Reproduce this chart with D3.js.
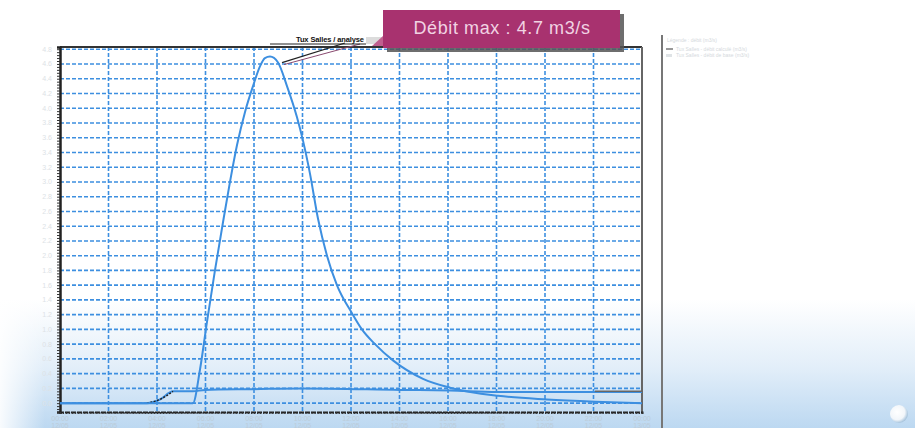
<!DOCTYPE html>
<html>
<head>
<meta charset="utf-8">
<script src="https://cdn.jsdelivr.net/npm/d3@7"></script>
<style>
  html, body { margin: 0; padding: 0; background: #fff; }
  svg { display: block; font-family: "Liberation Sans", Arial, sans-serif; }
</style>
</head>
<body>
<svg id="chart" width="915" height="428"></svg>
<script>
// Hydrograph: time in hours, discharge in m3/s
const hours = [0, 5.48, 5.77, 6.06, 6.39, 6.72, 7.01, 7.30, 7.63, 7.96, 8.25, 8.45, 8.66, 8.99, 9.36, 9.77, 10.02, 10.31, 10.64, 11.01, 11.42, 12.04, 12.45, 12.99, 13.73, 14.97, 16.08, 18.06, 20.08, 22.06, 24];
const debit = [0, 0, 0.45, 1.1, 1.8, 2.45, 3.0, 3.5, 3.95, 4.3, 4.57, 4.68, 4.7, 4.62, 4.3, 3.88, 3.56, 3.11, 2.5, 2.0, 1.6, 1.22, 1.0, 0.8, 0.58, 0.33, 0.21, 0.10, 0.05, 0.02, 0.0];

// Base flow series
const baseHours = [0, 3.58, 4.12, 4.66, 5.48, 5.98, 7.96, 9.98, 14.02, 16.08, 18.02, 20.07, 22.06, 24];
const baseDebit = [0, 0, 0.05, 0.16, 0.16, 0.18, 0.19, 0.20, 0.18, 0.17, 0.15, 0.15, 0.15, 0.15];

// Measured segment (black dotted) and reference segment (grey)
const mesHours = [3.58, 4.12, 4.66];
const mesDebit = [0, 0.05, 0.16];
const refHours = [22.06, 24];
const refDebit = [0.16, 0.16];

const yTicks = d3.range(0, 4.81, 0.2);
const xTicks = d3.range(0, 24.1, 2);
const xTickLabels = ["00:00", "02:00", "04:00", "06:00", "08:00", "10:00", "12:00", "14:00", "16:00", "18:00", "20:00", "22:00", "00:00"];
const xTickDates = ["12/05", "12/05", "12/05", "12/05", "12/05", "12/05", "12/05", "12/05", "12/05", "12/05", "12/05", "12/05", "13/05"];

const peakValue = 4.7;
const peakHour = 8.66;
const calloutText = "Débit max : " + peakValue + " m3/s";

const svg = d3.select("#chart");
const W = 915, H = 428;
const plot = { left: 60, right: 642, top: 47, bottom: 412 };

const x = d3.scaleLinear().domain([0, 24]).range([plot.left, plot.right]);
const y = d3.scaleLinear().domain([-0.12, 4.83]).range([plot.bottom, plot.top]);

// Background haze
const defs = svg.append("defs");
const bg = defs.append("linearGradient").attr("id", "bg").attr("x1", 0).attr("y1", 0).attr("x2", 0).attr("y2", 1);
bg.append("stop").attr("offset", "0%").attr("stop-color", "#ffffff");
bg.append("stop").attr("offset", "70%").attr("stop-color", "#ffffff");
bg.append("stop").attr("offset", "86%").attr("stop-color", "#e2eef9");
bg.append("stop").attr("offset", "100%").attr("stop-color", "#bcd8f1");
svg.append("rect").attr("width", W).attr("height", H).attr("fill", "url(#bg)");

const sideFade = defs.append("linearGradient").attr("id", "side").attr("x1", 0).attr("y1", 0).attr("x2", 1).attr("y2", 0);
sideFade.append("stop").attr("offset", "0%").attr("stop-color", "#ffffff").attr("stop-opacity", 0.9);
sideFade.append("stop").attr("offset", "100%").attr("stop-color", "#ffffff").attr("stop-opacity", 0);
svg.append("rect").attr("x", 0).attr("y", 300).attr("width", 45).attr("height", 128).attr("fill", "url(#side)");

// Small glossy ball, lower right
const ball = defs.append("radialGradient").attr("id", "ball").attr("cx", "40%").attr("cy", "40%").attr("r", "60%");
ball.append("stop").attr("offset", "0%").attr("stop-color", "#ffffff");
ball.append("stop").attr("offset", "70%").attr("stop-color", "#f2f6fa");
ball.append("stop").attr("offset", "100%").attr("stop-color", "#aac6de");
svg.append("circle").attr("cx", 899).attr("cy", 414).attr("r", 9).attr("fill", "url(#ball)");

// Grid
const grid = svg.append("g").attr("stroke", "#3d8fe0").attr("stroke-width", 1.6).attr("stroke-dasharray", "4,2");
grid.selectAll("line.h").data(yTicks).join("line")
  .attr("x1", plot.left).attr("x2", plot.right)
  .attr("y1", d => y(d)).attr("y2", d => y(d));
grid.selectAll("line.v").data(xTicks.slice(1, -1)).join("line")
  .attr("y1", plot.top).attr("y2", plot.bottom)
  .attr("x1", d => x(d)).attr("x2", d => x(d));

// Frame
svg.append("line").attr("x1", plot.left).attr("x2", plot.right).attr("y1", plot.top).attr("y2", plot.top)
  .attr("stroke", "#333").attr("stroke-width", 2);
svg.append("line").attr("x1", plot.right).attr("x2", plot.right).attr("y1", plot.top).attr("y2", plot.bottom)
  .attr("stroke", "#666").attr("stroke-width", 2);

// Axes with dense minor ticks
const yAxis = d3.axisLeft(y).tickValues(d3.range(-0.12, 4.83, 0.04)).tickSize(3).tickFormat("");
const gy = svg.append("g").attr("transform", `translate(${plot.left},0)`).call(yAxis);
gy.select(".domain").attr("stroke", "#222").attr("stroke-width", 2.5);
gy.selectAll(".tick line").attr("stroke", "#333");

const xAxis = d3.axisBottom(x).tickValues(d3.range(0, 24.01, 0.125)).tickSize(2).tickFormat("");
const gx = svg.append("g").attr("transform", `translate(0,${plot.bottom})`).call(xAxis);
gx.select(".domain").attr("stroke", "#222").attr("stroke-width", 2).attr("stroke-dasharray", "5,1");
gx.selectAll(".tick line").attr("stroke", "#333");

// Faint tick labels
svg.append("g").selectAll("text").data(yTicks).join("text")
  .attr("x", plot.left - 8).attr("y", d => y(d) + 2.5)
  .attr("text-anchor", "end").attr("font-size", 7).attr("fill", "#dde2e6")
  .text(d => d.toFixed(1));
const xl = svg.append("g").attr("font-size", 7).attr("fill", "#bcccd9").attr("text-anchor", "middle");
xl.selectAll("text.t").data(xTicks).join("text")
  .attr("x", d => x(d)).attr("y", plot.bottom + 9).text((d, i) => xTickLabels[i]);
xl.selectAll("text.d").data(xTicks).join("text")
  .attr("x", d => x(d)).attr("y", plot.bottom + 16).text((d, i) => xTickDates[i]);

// Series
const line = d3.line().x(d => x(d[0])).y(d => y(d[1])).curve(d3.curveMonotoneX);
svg.append("path").datum(d3.zip(baseHours, baseDebit)).attr("d", line)
  .attr("fill", "none").attr("stroke", "#3d8fe0").attr("stroke-width", 2);
svg.append("path").datum(d3.zip(refHours, refDebit)).attr("d", line)
  .attr("fill", "none").attr("stroke", "#666").attr("stroke-width", 1.5);
svg.append("path").datum(d3.zip(mesHours, mesDebit)).attr("d", line)
  .attr("fill", "none").attr("stroke", "#222").attr("stroke-width", 1.5).attr("stroke-dasharray", "2,1.5");
svg.append("path").datum(d3.zip(hours, debit)).attr("d", line)
  .attr("fill", "none").attr("stroke", "#3d8fe0").attr("stroke-width", 2);

// Peak annotation
const px = x(peakHour) + 12, py = y(peakValue) + 6;
svg.append("line").attr("x1", px).attr("y1", py).attr("x2", 345).attr("y2", 43)
  .attr("stroke", "#222").attr("stroke-width", 1.2);
svg.append("line").attr("x1", px + 2).attr("y1", py + 2).attr("x2", 360).attr("y2", 44)
  .attr("stroke", "#8a4a70").attr("stroke-width", 1);
svg.append("line").attr("x1", 270).attr("x2", 366).attr("y1", 44).attr("y2", 44)
  .attr("stroke", "#222").attr("stroke-width", 1);
svg.append("text").attr("x", 296).attr("y", 42).attr("font-size", 7.5).attr("font-weight", "bold")
  .attr("fill", "#111").attr("textLength", 68).text("Tux Salles / analyse");
svg.append("rect").attr("x", 366).attr("y", 37).attr("width", 18).attr("height", 7).attr("fill", "#dcdcdc");

// Callout
svg.append("rect").attr("x", 387).attr("y", 14).attr("width", 237).attr("height", 38).attr("fill", "#555").attr("opacity", 0.85);
svg.append("path").attr("d", "M383,36 L372,46 L390,46 Z").attr("fill", "#c0608f");
svg.append("rect").attr("x", 383).attr("y", 10).attr("width", 237).attr("height", 38).attr("fill", "#a8326f");
svg.append("text").attr("x", 502).attr("y", 34).attr("text-anchor", "middle")
  .attr("font-size", 18).attr("fill", "#f1d3e3").attr("letter-spacing", 0.6).text(calloutText);

// Legend panel
svg.append("line").attr("x1", 662).attr("x2", 662).attr("y1", 35).attr("y2", H)
  .attr("stroke", "#777").attr("stroke-width", 2);
const lg = svg.append("g").attr("font-size", 5).attr("fill", "#d4d8dc");
lg.append("text").attr("x", 667).attr("y", 42).text("Légende : débit (m3/s)");
lg.append("line").attr("x1", 666).attr("x2", 673).attr("y1", 49).attr("y2", 49).attr("stroke", "#777").attr("stroke-width", 1.5);
lg.append("text").attr("x", 676).attr("y", 51).text("Tux Salles - débit calculé (m3/s)");
lg.append("rect").attr("x", 666).attr("y", 54).attr("width", 6).attr("height", 3).attr("fill", "#dfe3e6");
lg.append("text").attr("x", 676).attr("y", 57).text("Tux Salles - débit de base (m3/s)");
</script>
</body>
</html>
